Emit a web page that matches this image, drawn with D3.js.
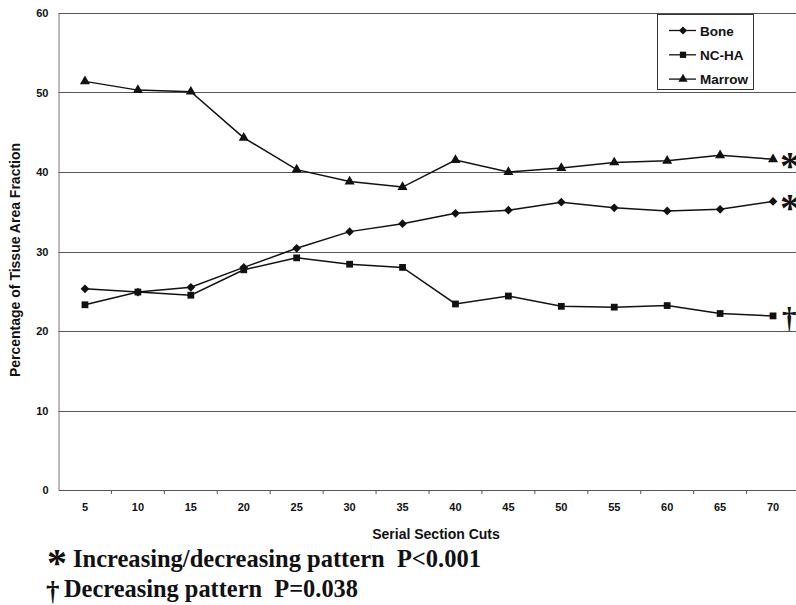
<!DOCTYPE html>
<html><head><meta charset="utf-8">
<script src="https://cdn.jsdelivr.net/npm/d3@7"></script>
<style>body{margin:0;background:#fff}svg{display:block}text{white-space:pre}</style>
</head><body><svg id="c" width="796" height="605"></svg>
<script>
const categories = [5,10,15,20,25,30,35,40,45,50,55,60,65,70];
const bone   = [25.3,24.9,25.5,28.0,30.4,32.5,33.5,34.8,35.2,36.2,35.5,35.1,35.3,36.3];
const ncha   = [23.3,24.9,24.5,27.7,29.2,28.4,28.0,23.4,24.4,23.1,23.0,23.2,22.2,21.9];
const marrow = [51.4,50.3,50.1,44.3,40.3,38.8,38.1,41.5,40.0,40.5,41.2,41.4,42.1,41.6];
const yTicks = [0,10,20,30,40,50,60];
const seriesNames = ["Bone","NC-HA","Marrow"];
const markers = ["diamond","square","triangle"];
const marks = ["*","\u2020","*"];
const footnotes = ["Increasing/decreasing pattern  P<0.001","Decreasing pattern  P=0.038"];

(function(){
const svg = d3.select("#c");
const pL = 58.5, pR = 799.5, pT = 13, pB = 490;
const x = d3.scaleBand().domain(categories).range([pL,pR]);
const y = d3.scaleLinear().domain([0,60]).range([pB,pT]);
const sans = "Liberation Sans, Arial, sans-serif";
const serif = "Liberation Serif, Times New Roman, serif";

svg.append("g").selectAll("line").data(yTicks.filter(d=>d>0)).join("line")
  .attr("x1",pL).attr("x2",796).attr("y1",d=>Math.round(y(d))+0.5).attr("y2",d=>Math.round(y(d))+0.5)
  .attr("stroke","#555").attr("stroke-width",1);

const ya = svg.append("g").attr("transform",`translate(${pL},0)`)
  .call(d3.axisLeft(y).tickValues(yTicks).tickSize(0).tickPadding(10));
ya.select(".domain").attr("stroke","#777");
ya.selectAll("text").attr("font-family",sans).attr("font-weight","bold").attr("font-size",11).attr("fill","#111");

const xa = svg.append("g").attr("transform",`translate(0,${pB})`)
  .call(d3.axisBottom(x).tickSize(0).tickPadding(13));
xa.select(".domain").attr("stroke","#555");
xa.selectAll("text").attr("font-family",sans).attr("font-weight","bold").attr("font-size",11).attr("fill","#111");
xa.selectAll(".bnd").data(categories.slice(1)).join("line")
  .attr("x1",d=>x(d)).attr("x2",d=>x(d)).attr("y1",0).attr("y2",4).attr("stroke","#555");

svg.append("text").attr("transform",`translate(20,260) rotate(-90)`)
  .attr("text-anchor","middle").attr("font-family",sans).attr("font-weight","bold")
  .attr("font-size",14).attr("fill","#111").text("Percentage of Tissue Area Fraction");
svg.append("text").attr("x",436).attr("y",539).attr("text-anchor","middle")
  .attr("font-family",sans).attr("font-weight","bold").attr("font-size",14).attr("fill","#111")
  .text("Serial Section Cuts");

const data = [bone,ncha,marrow];
const cx = d=>x(d)+x.bandwidth()/2;
const line = d3.line().x((d,i)=>cx(categories[i])).y(d=>y(d));
const symType = {diamond:d3.symbolSquare, square:d3.symbolSquare, triangle:d3.symbolTriangle};
const symSize = {diamond:38, square:46, triangle:44};
const symRot = {diamond:45, square:0, triangle:0};

data.forEach((vals,k)=>{
  svg.append("path").attr("d",line(vals)).attr("fill","none").attr("stroke","#111").attr("stroke-width",1.5);
  svg.append("g").selectAll("path").data(vals).join("path")
    .attr("transform",(d,i)=>`translate(${cx(categories[i])},${y(d)}) rotate(${symRot[markers[k]]})`)
    .attr("d",d3.symbol(symType[markers[k]],symSize[markers[k]])).attr("fill","#111");
});

data.forEach((vals,k)=>{
  const last = vals[vals.length-1];
  const isStar = marks[k]==="*";
  svg.append("text").attr("x",isStar?780:782).attr("y",y(last)+(isStar?20:12))
    .attr("font-family",serif).attr("font-weight","bold")
    .attr("font-size", isStar?40:29).attr("fill","#111").text(marks[k]);
});

const lg = svg.append("g");
lg.append("rect").attr("x",657.5).attr("y",14.5).attr("width",96).attr("height",75)
  .attr("fill","#fff").attr("stroke","#333");
seriesNames.forEach((n,k)=>{
  const ly = 30.5 + k*24.3;
  lg.append("line").attr("x1",669).attr("x2",696).attr("y1",ly).attr("y2",ly).attr("stroke","#111").attr("stroke-width",1.3);
  lg.append("path").attr("transform",`translate(683,${ly}) rotate(${symRot[markers[k]]})`).attr("d",d3.symbol(symType[markers[k]],symSize[markers[k]]*0.85)).attr("fill","#111");
  lg.append("text").attr("x",700).attr("y",ly+5).attr("font-family",sans).attr("font-weight","bold")
    .attr("font-size",13.5).attr("fill","#111").text(n);
});

const fn = svg.append("g").attr("font-family",serif).attr("font-weight","bold").attr("fill","#111");
fn.append("text").attr("x",47).attr("y",576).attr("font-size",40).text(marks[0]);
fn.append("text").attr("x",73).attr("y",567).attr("font-size",25)
  .attr("textLength",408).attr("lengthAdjust","spacingAndGlyphs").text(footnotes[0]);
fn.append("text").attr("x",46).attr("y",600).attr("font-size",27).text(marks[1]);
fn.append("text").attr("x",64).attr("y",597).attr("font-size",25)
  .attr("textLength",294).attr("lengthAdjust","spacingAndGlyphs").text(footnotes[1]);
})();
</script></body></html>
